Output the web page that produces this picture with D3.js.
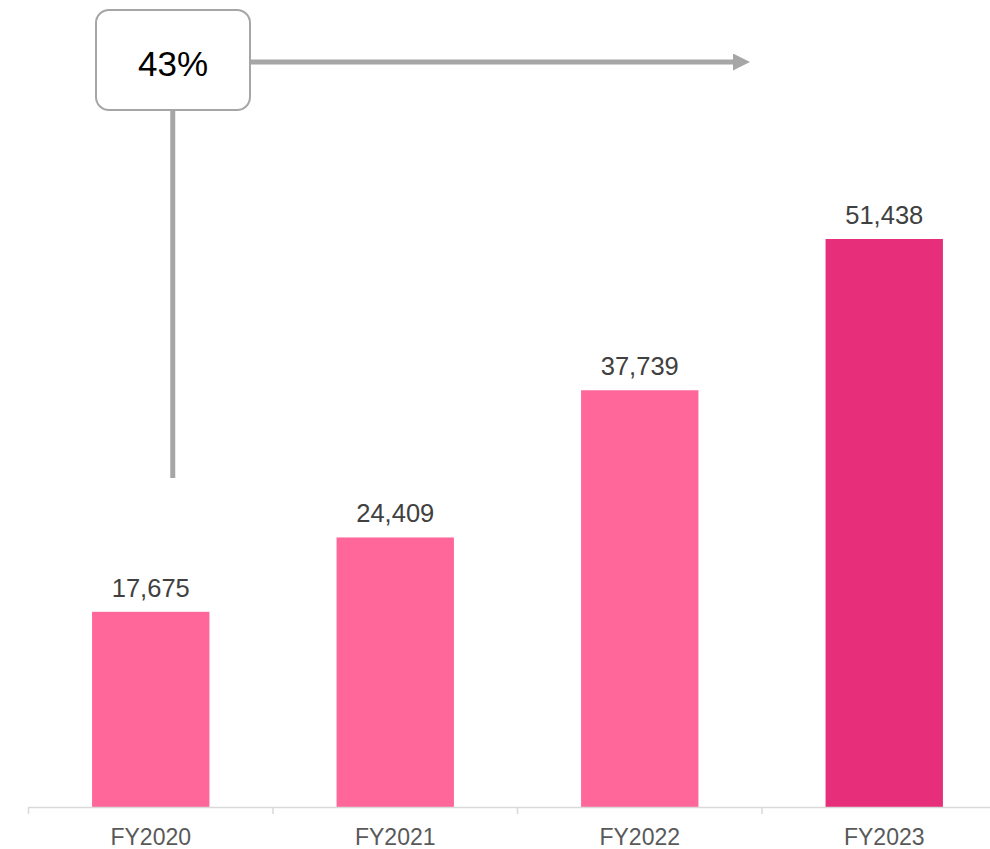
<!DOCTYPE html>
<html>
<head>
<meta charset="utf-8">
<script src="https://cdn.jsdelivr.net/npm/d3@7"></script>
<style>
  html, body { margin: 0; padding: 0; background: #fff; }
  svg { display: block; }
</style>
</head>
<body>
<svg id="chart" width="990" height="849"></svg>
<script>
// Revenue by fiscal year
const categories = ["FY2020", "FY2021", "FY2022", "FY2023"];
const values = [17675, 24409, 37739, 51438];
const highlight = ["FY2023"];
const growthLabel = "43%";

const svg = d3.select("#chart");
const W = 990, H = 849;
const baseY = 807;

const x = d3.scaleBand()
  .domain(categories)
  .range([28.5, 1006.5])
  .paddingInner(0.52)
  .paddingOuter(0.26);

const y = d3.scaleLinear()
  .domain([0, 51438])
  .range([baseY, 239]);

// bars
svg.append("g")
  .selectAll("rect")
  .data(categories)
  .join("rect")
  .attr("x", d => x(d))
  .attr("width", x.bandwidth())
  .attr("y", (d, i) => y(values[i]))
  .attr("height", (d, i) => baseY - y(values[i]))
  .attr("fill", d => highlight.includes(d) ? "#e62e7a" : "#ff6699");

// value labels
const fmt = d3.format(",");
svg.append("g")
  .selectAll("text")
  .data(categories)
  .join("text")
  .attr("x", d => x(d) + x.bandwidth() / 2)
  .attr("y", (d, i) => y(values[i]) - 15)
  .attr("text-anchor", "middle")
  .attr("font-family", "Liberation Sans, Arial, sans-serif")
  .attr("font-size", 25.5)
  .attr("fill", "#404040")
  .text((d, i) => fmt(values[i]));

// category axis with ticks between bands
const axisG = svg.append("g").attr("transform", `translate(0,${baseY})`);
const step = x.step();
const boundaries = categories.map(c => x(c) - x.paddingInner() * step / 2);
boundaries.push(x(categories[categories.length - 1]) + x.bandwidth() + x.paddingInner() * step / 2);
axisG.append("line")
  .attr("x1", boundaries[0]).attr("x2", W)
  .attr("y1", 0.5).attr("y2", 0.5)
  .attr("stroke", "#d9d9d9").attr("stroke-width", 1.5);
axisG.selectAll("line.tick")
  .data(boundaries)
  .join("line")
  .attr("class", "tick")
  .attr("x1", d => d).attr("x2", d => d)
  .attr("y1", 0).attr("y2", 7)
  .attr("stroke", "#d9d9d9").attr("stroke-width", 1.5);
axisG.selectAll("text")
  .data(categories)
  .join("text")
  .attr("x", d => x(d) + x.bandwidth() / 2)
  .attr("y", 38)
  .attr("text-anchor", "middle")
  .attr("font-family", "Liberation Sans, Arial, sans-serif")
  .attr("font-size", 23)
  .attr("fill", "#595959")
  .text(d => d);

// growth callout: box, connector and arrow
const gray = "#a6a6a6";
const cx = x(categories[0]) + x.bandwidth() / 2 + 22;
const box = { x: 96, y: 10, w: 154, h: 100 };

svg.append("defs").append("marker")
  .attr("id", "arrowhead")
  .attr("viewBox", "0 0 10 10")
  .attr("refX", 0).attr("refY", 5)
  .attr("markerWidth", 3.4).attr("markerHeight", 3.4)
  .attr("markerUnits", "strokeWidth")
  .attr("orient", "auto")
  .append("path")
  .attr("d", "M0,0 L10,5 L0,10 Z")
  .attr("fill", gray);

svg.append("line")
  .attr("x1", cx).attr("x2", cx)
  .attr("y1", box.y + box.h).attr("y2", 478)
  .attr("stroke", gray).attr("stroke-width", 5);

svg.append("line")
  .attr("x1", box.x + box.w).attr("x2", 733)
  .attr("y1", 62).attr("y2", 62)
  .attr("stroke", gray).attr("stroke-width", 5)
  .attr("marker-end", "url(#arrowhead)");

svg.append("rect")
  .attr("x", box.x).attr("y", box.y)
  .attr("width", box.w).attr("height", box.h)
  .attr("rx", 13).attr("ry", 13)
  .attr("fill", "#fff")
  .attr("stroke", gray).attr("stroke-width", 2);

svg.append("text")
  .attr("x", box.x + box.w / 2)
  .attr("y", 75.5)
  .attr("text-anchor", "middle")
  .attr("font-family", "Liberation Sans, Arial, sans-serif")
  .attr("font-size", 35)
  .attr("fill", "#000")
  .text(growthLabel);
</script>
</body>
</html>
